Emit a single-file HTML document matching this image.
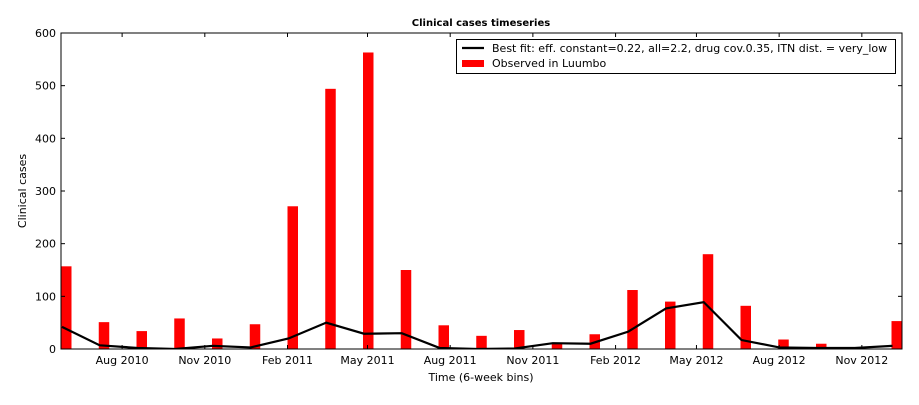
<!DOCTYPE html>
<html><head><meta charset="utf-8"><style>
body{margin:0;background:#fff;}
svg text{font-family:"DejaVu Sans","Liberation Sans",sans-serif;font-size:11px;fill:#000;}
</style></head><body>
<svg id="c" width="919" height="400"></svg>
<script>
const barValues=[157,51,34,58,20,47,271,494,563,150,45,25,36,10,28,112,90,180,82,18,10,3,53];
const fitValues=[42,7,2,0,6,3,20,50,29,30,2,0,1,11,10,33,77,89,17,3,2,2,6];
const yTicks=[0,100,200,300,400,500,600];
const xTickLabels=["Aug 2010","Nov 2010","Feb 2011","May 2011","Aug 2011","Nov 2011","Feb 2012","May 2012","Aug 2012","Nov 2012"];
const xTickDates=["2010-08-01","2010-11-01","2011-02-01","2011-05-01","2011-08-01","2011-11-01","2012-02-01","2012-05-01","2012-08-01","2012-11-01"];
const startDate="2010-05-25", binDays=42;

const L=61,R=902,T=33,B=349;
const day=86400000, t0=Date.parse(startDate);
const pxPerDay=37.75/binDays;
const xd=d=>L+(Date.parse(d)-t0)/day*pxPerDay;
const xi=i=>L+i*binDays*pxPerDay;
const y=v=>B-(v/600)*(B-T);
const svg=document.getElementById('c');
const NS="http://www.w3.org/2000/svg";
function mk(tag,attrs,parent){const e=document.createElementNS(NS,tag);for(const k in attrs)e.setAttribute(k,attrs[k]);(parent||svg).appendChild(e);return e;}

const clip=mk('clipPath',{id:'pc'});mk('rect',{x:L,y:T,width:R-L,height:B-T},clip);
const bars=mk('g',{'clip-path':'url(#pc)'});


barValues.forEach((v,i)=>{
  const r=mk('rect',{x:xi(i),y:y(v),width:10.5,height:B-y(v),fill:'#ff0000'},bars);
  
  
});
const pts=fitValues.map((v,i)=>xi(i)+1+','+y(v)).join(' ');
const line=mk('polyline',{points:pts,fill:'none',stroke:'#000','stroke-width':2.2,'clip-path':'url(#pc)'});



const frame=mk('rect',{x:L,y:T,width:R-L,height:B-T,fill:'none',stroke:'#000','stroke-width':1});



yTicks.forEach(t=>{
  const yy=y(t);
  mk('line',{x1:L,x2:L+4,y1:yy,y2:yy,stroke:'#000'});
  mk('line',{x1:R-4,x2:R,y1:yy,y2:yy,stroke:'#000'});
  const tx=mk('text',{x:L-5,y:yy+4,'text-anchor':'end'});tx.textContent=t;
  
  
});
xTickDates.forEach((d,i)=>{
  const xx=xd(d);
  mk('line',{x1:xx,x2:xx,y1:B,y2:B-4,stroke:'#000'});
  mk('line',{x1:xx,x2:xx,y1:T,y2:T+4,stroke:'#000'});
  const tx=mk('text',{x:xx,y:B+15,'text-anchor':'middle'});tx.textContent=xTickLabels[i];
  
  
});
let t=mk('text',{x:481,y:26,'text-anchor':'middle','font-weight':'bold',style:'font-size:10px'});t.textContent="Clinical cases timeseries";


t=mk('text',{x:481,y:381,'text-anchor':'middle'});t.textContent="Time (6-week bins)";


t=mk('text',{x:26,y:191,'text-anchor':'middle',transform:'rotate(-90 26 191)'});t.textContent="Clinical cases";



const lg=mk('g',{});


mk('rect',{x:456.5,y:39.5,width:439,height:34,fill:'#fff',stroke:'#000'},lg);
mk('line',{x1:462,x2:484,y1:48,y2:48,stroke:'#000','stroke-width':2.2},lg);
t=mk('text',{x:492,y:52},lg);t.textContent="Best fit: eff. constant=0.22, all=2.2, drug cov.0.35, ITN dist. = very_low";


mk('rect',{x:462,y:60,width:22,height:7,fill:'#ff0000'},lg);
t=mk('text',{x:492,y:67},lg);t.textContent="Observed in Luumbo";


</script>
</body></html>
